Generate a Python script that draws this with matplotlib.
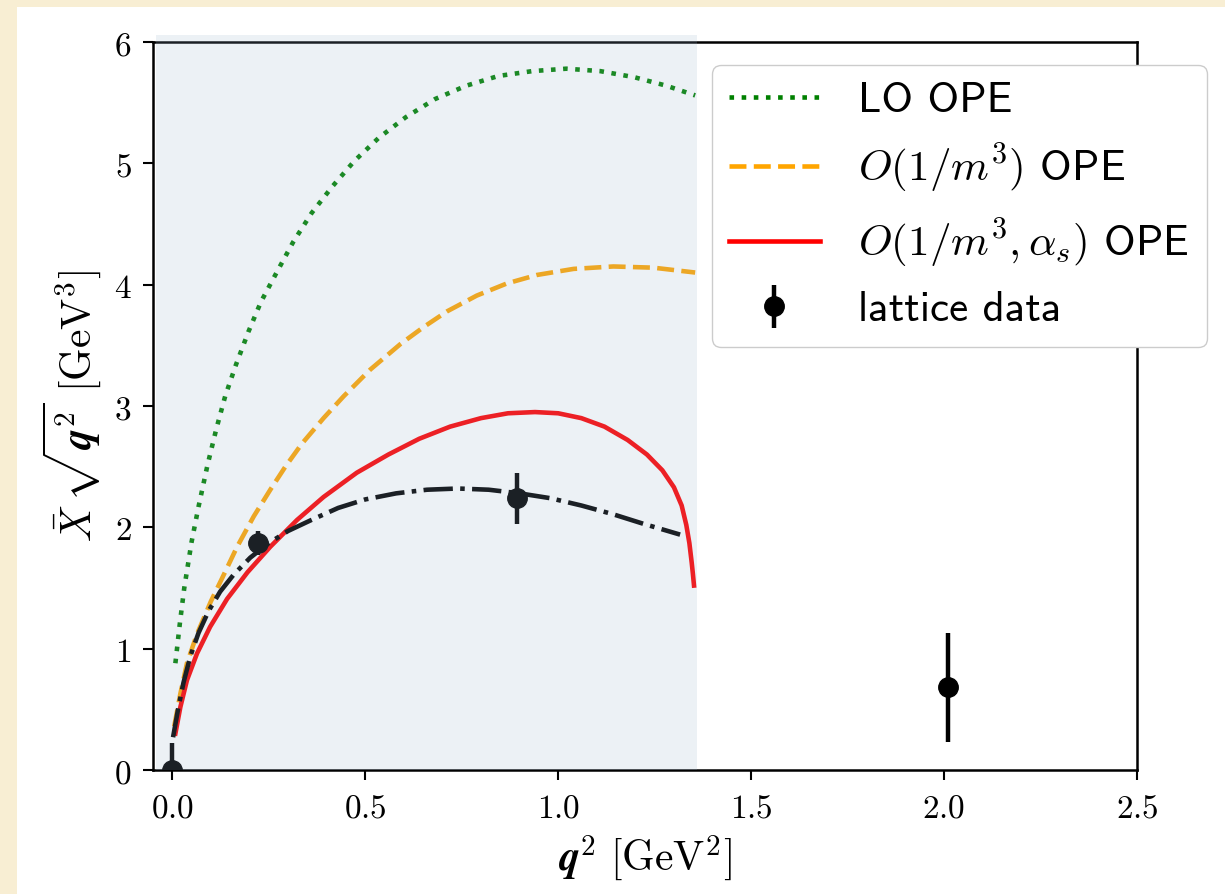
import matplotlib
matplotlib.use("Agg")
import matplotlib.pyplot as plt
from matplotlib.patches import Rectangle
from matplotlib.ticker import FormatStrFormatter, MultipleLocator

plt.rcParams["mathtext.fontset"] = "cm"

# ==========================
# LO OPE curve
# ==========================
lo_q2 = [0.008, 0.02, 0.031, 0.05, 0.068, 0.091, 0.114, 0.137, 0.165, 0.197,
         0.23, 0.272, 0.313, 0.361, 0.415, 0.472, 0.535, 0.605, 0.681, 0.762,
         0.845, 0.933, 1.021, 1.109, 1.197, 1.28, 1.355]
lo_ope = [0.88, 1.22, 1.50, 1.88, 2.17, 2.51, 2.81, 3.08, 3.34, 3.61,
          3.86, 4.11, 4.35, 4.59, 4.81, 5.02, 5.21, 5.38, 5.53, 5.64,
          5.72, 5.76, 5.78, 5.76, 5.71, 5.64, 5.56]

# ==========================
# O(1/m^3) OPE curve
# ==========================
m3_q2 = [0.005, 0.021, 0.038, 0.064, 0.10, 0.129, 0.168, 0.211, 0.254, 0.293,
         0.336, 0.392, 0.444, 0.513, 0.591, 0.651, 0.712, 0.789, 0.867, 0.945,
         1.040, 1.143, 1.247, 1.355]
m3_ope = [0.36, 0.63, 0.88, 1.12, 1.39, 1.58, 1.84, 2.09, 2.31, 2.50,
          2.69, 2.90, 3.08, 3.30, 3.51, 3.65, 3.78, 3.91, 4.01, 4.08,
          4.13, 4.15, 4.14, 4.10]

# ==========================
# O(1/m^3, alpha_s) OPE curve
# ==========================
as_q2 = [0.008, 0.021, 0.038, 0.064, 0.098, 0.142, 0.195, 0.254, 0.323, 0.392,
         0.478, 0.56, 0.64, 0.72, 0.80, 0.87, 0.94, 1.00, 1.06, 1.12,
         1.18, 1.23, 1.27, 1.30, 1.32, 1.332, 1.340, 1.346, 1.349, 1.352]
as_ope = [0.30, 0.52, 0.74, 0.96, 1.18, 1.41, 1.63, 1.84, 2.06, 2.25,
          2.45, 2.60, 2.73, 2.83, 2.90, 2.94, 2.95, 2.94, 2.90, 2.83,
          2.72, 2.60, 2.47, 2.33, 2.18, 2.02, 1.87, 1.71, 1.62, 1.52]

# ==========================
# Fit through lattice points
# ==========================
fit_q2 = [0.002, 0.016, 0.029, 0.047, 0.068, 0.094, 0.124, 0.159, 0.202, 0.25,
          0.30, 0.36, 0.43, 0.50, 0.58, 0.66, 0.74, 0.82, 0.90, 0.98,
          1.06, 1.14, 1.22, 1.316]
fit_vals = [0.27, 0.52, 0.72, 0.94, 1.13, 1.31, 1.47, 1.61, 1.75, 1.87,
            1.97, 2.06, 2.16, 2.23, 2.28, 2.31, 2.32, 2.31, 2.28, 2.24,
            2.18, 2.11, 2.03, 1.94]

# ==========================
# Lattice data
# ==========================
lat_q2 = [0.0, 0.223, 0.893, 2.010]
lat_vals = [0.0, 1.87, 2.24, 0.68]
lat_err = [0.22, 0.10, 0.21, 0.45]

q2_max = 1.36


def make_plot():
    fig = plt.figure(figsize=(12.25, 8.94), dpi=100)
    fig.patch.set_facecolor("#f8eed3")
    fig.add_artist(Rectangle((17 / 1225, 0), 1, 1 - 7 / 894,
                             transform=fig.transFigure, facecolor="white",
                             edgecolor="none", zorder=0))

    ax = fig.add_axes([153 / 1225, 1 - 770 / 894, 984 / 1225, 728 / 894])
    ax.set_facecolor("none")

    lw = 3.3
    ax.plot(lo_q2, lo_ope, ":", color="green", lw=lw, label="LO OPE")
    ax.plot(m3_q2, m3_ope, "--", color="orange", lw=lw,
            label=r"$O(1/m^3)$ OPE")
    ax.plot(as_q2, as_ope, "-", color="red", lw=lw,
            label=r"$O(1/m^3, \alpha_s)$ OPE")
    ax.plot(fit_q2, fit_vals, "-.", color="black", lw=lw)
    ax.errorbar(lat_q2, lat_vals, yerr=lat_err, fmt="o", color="black",
                ms=14, elinewidth=3.2, capsize=0, label="lattice data",
                zorder=3)

    # region where the OPE is valid
    ax.add_patch(Rectangle((-0.0425, 0), q2_max + 0.0425, 6.06,
                           facecolor="#98b3ce", alpha=0.185, edgecolor="none",
                           clip_on=False, zorder=4))

    ax.set_xlim(-0.05, 2.5)
    ax.set_ylim(0, 6)
    ax.xaxis.set_major_locator(MultipleLocator(0.5))
    ax.yaxis.set_major_locator(MultipleLocator(1))
    ax.xaxis.set_major_formatter(FormatStrFormatter(r"$%.1f$"))
    ax.yaxis.set_major_formatter(FormatStrFormatter(r"$%d$"))
    ax.tick_params(labelsize=24, length=7.5, width=1.5, pad=8)
    for sp in ax.spines.values():
        sp.set_linewidth(1.8)

    ax.set_xlabel(r"$\boldsymbol{q}^2\ [\mathrm{GeV}^2]$", fontsize=30,
                  labelpad=6)
    ax.set_ylabel(r"$\bar{X}\,\sqrt{\boldsymbol{q}^2}\ [\mathrm{GeV}^3]$",
                  fontsize=30, labelpad=8)

    leg = ax.legend(loc="upper left", bbox_to_anchor=(712 / 1225, 1 - 65 / 894),
                    bbox_transform=fig.transFigure, borderaxespad=0,
                    prop={"family": "cmss10", "size": 31}, fancybox=True,
                    framealpha=1, edgecolor="#cccccc", handlelength=2.1,
                    handletextpad=0.9)
    leg.set_zorder(10)

    fig.savefig("out.png", dpi=100, facecolor=fig.get_facecolor())


def main():
    make_plot()


if __name__ == "__main__":
    main()
